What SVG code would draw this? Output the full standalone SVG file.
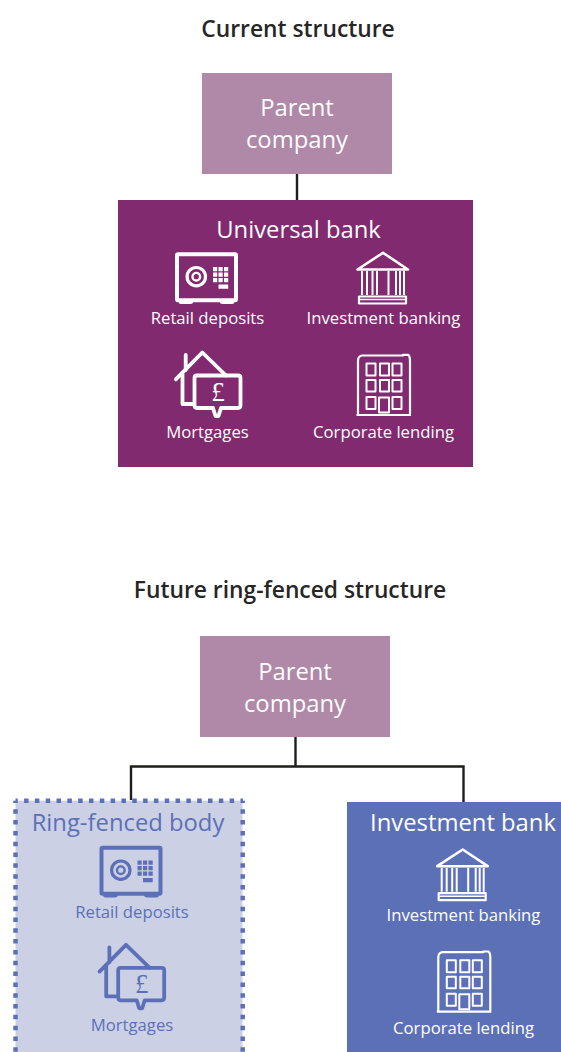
<svg xmlns="http://www.w3.org/2000/svg" width="561" height="1052" viewBox="0 0 561 1052">
<style>
text{font-family:"Open Sans","Noto Sans","Liberation Sans",sans-serif;text-anchor:middle}
.title{font-size:22.800px;font-weight:600;fill:#262626}
.box{font-size:23.800px;fill:#fff}
.head{font-size:23.800px}
.lab{font-size:16.700px;font-weight:500}
.w{fill:#fff;color:#fff}
.b{fill:#5C70B8;color:#5C70B8}
.parent{fill:#B088A8}
.ic{fill:none;stroke:currentColor;stroke-linejoin:round}
.icf{fill:currentColor;stroke:none}
.conn{fill:none;stroke:#1d1d1b;stroke-width:2.400}
.dots{fill:none;stroke:#5C70B8;stroke-width:4.500;stroke-dasharray:4.500 6.320;stroke-dashoffset:2.250}
</style>
<defs>
<g id="safe">
<rect class="ic" x="177" y="254.300" width="59" height="46" rx="1" stroke-width="4"/>
<path class="icf" d="M179 301h14q1 3-3 3h-9q-3 0-2-3zM220 301h14q1 3-2 3h-9q-4 0-3-3z"/>
<circle class="ic" cx="196.300" cy="276.700" r="9.200" stroke-width="3.200"/>
<circle class="ic" cx="196.300" cy="276.700" r="3.800" stroke-width="2.400"/>
<path class="icf" d="M213 267h4.200v4.200h-4.200zM218.500 267h4.200v4.200h-4.200zM224 267h4.200v4.200h-4.200zM213 272.500h4.200v4.200h-4.200zM218.500 272.500h4.200v4.200h-4.200zM224 272.500h4.200v4.200h-4.200zM213 278h4.200v4.200h-4.200zM218.500 278h4.200v4.200h-4.200zM224 278h4.200v4.200h-4.200zM218.500 284.500h9.700v4.200h-9.700z"/>
</g>
<g id="bank">
<path class="ic" d="M357.500 269.500L383 252.800L408 269.500Z" stroke-width="2.600"/>
<path class="ic" d="M362 271V295M367 271V295M372.500 271V295M377 271V295M388.500 271V295M396 271V295M400 271V295M404 271V295" stroke-width="2"/>
<rect class="ic" x="359" y="296.500" width="47" height="7" stroke-width="2.200"/>
<path class="ic" d="M360 299.500H405" stroke-width="1.500"/>
</g>
<g id="building">
<path class="ic" d="M358 361Q358 356 362 355.500H403V354.800H408Q410 356 410 361V414M358 361V414M356.500 415H411" stroke-width="2.200"/>
<rect class="ic" x="366.500" y="363.500" width="9" height="12" stroke-width="2"/>
<rect class="ic" x="380" y="363.500" width="9" height="12" stroke-width="2"/>
<rect class="ic" x="392.500" y="363.500" width="9" height="12" stroke-width="2"/>
<rect class="ic" x="366.500" y="380" width="9" height="11.500" stroke-width="2"/>
<rect class="ic" x="380" y="380" width="9" height="11.500" stroke-width="2"/>
<rect class="ic" x="392.500" y="380" width="9" height="11.500" stroke-width="2"/>
<rect class="ic" x="366.500" y="397" width="9" height="12" stroke-width="2"/>
<rect class="ic" x="379" y="397.500" width="10" height="15" stroke-width="2"/>
<rect class="ic" x="392.500" y="397" width="9" height="12" stroke-width="2"/>
</g>
<g id="house">
<path class="ic" d="M175.800 379.300L202.300 352.500L226 375.500M185.700 355V370M182.500 373V404H194" stroke-width="3.800" stroke-linecap="round"/>
<path class="ic" d="M197 375.500H238Q240.500 375.500 240.500 378V405Q240.500 408 238 408H221L218.500 416H215.500L213 408H197Q194.500 408 194.500 405V378Q194.500 375.500 197 375.500Z" stroke-width="3.800"/>
<text x="218" y="401" style="font-family:'Liberation Serif',serif;font-size:27px" fill="currentColor">£</text>
</g>
</defs>
<g id="connectors">
<path class="conn" d="M297 174V200"/>
<path class="conn" d="M295.500 737V766.500M131 800V766.500H463.500V802"/>
</g>
<text class="title" x="298" y="37">Current structure</text>
<g id="parent-current"><rect class="parent" x="202" y="73" width="190" height="101"/>
<text class="box" x="297" y="116">Parent</text><text class="box" x="297" y="148">company</text></g>
<g id="universal-bank"><rect x="118" y="200" width="355" height="267" fill="#812A70"/>
<text class="box" x="298.500" y="238">Universal bank</text>
<g class="w"><use href="#safe"/><text class="lab" x="207.500" y="323.500">Retail deposits</text>
<use href="#bank"/><text class="lab" x="383.500" y="323.500">Investment banking</text>
<use href="#house"/><text class="lab" x="207.500" y="437.500">Mortgages</text>
<use href="#building"/><text class="lab" x="383.500" y="437.500">Corporate lending</text></g></g>
<text class="title" x="290" y="598">Future ring-fenced structure</text>
<g id="parent-future"><rect class="parent" x="200" y="636" width="190" height="101"/>
<text class="box" x="295" y="680">Parent</text><text class="box" x="295" y="712">company</text></g>
<g id="ring-fenced-body"><rect x="15.500" y="800.700" width="227" height="251.300" fill="#CBD0E5"/>
<path class="dots" d="M15.500 800.700H243M15.500 800.700V1052M242.700 800.700V1052"/>
<g class="b"><text class="head" x="128" y="831">Ring-fenced body</text>
<use href="#safe" transform="translate(-75.500 593.500)"/><text class="lab" x="132" y="917.500">Retail deposits</text>
<use href="#house" transform="translate(-76.300 592.300)"/><text class="lab" x="132" y="1030.500">Mortgages</text></g></g>
<g id="investment-bank"><rect x="347" y="802" width="214" height="250" fill="#5C70B8"/>
<g class="w"><text class="head" x="463" y="831">Investment bank</text>
<use href="#bank" transform="translate(79.700 596.700)"/><text class="lab" x="463.500" y="921">Investment banking</text>
<use href="#building" transform="translate(80.300 596.700)"/><text class="lab" x="463.500" y="1034">Corporate lending</text></g></g>
</svg>
